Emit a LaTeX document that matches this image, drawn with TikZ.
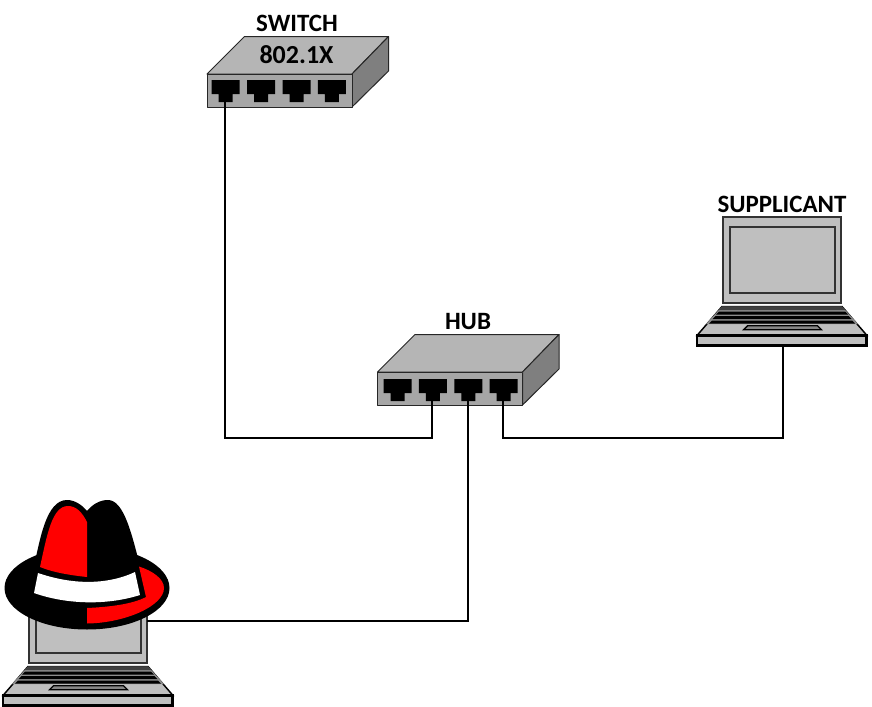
\documentclass[tikz,border=0pt]{standalone}
\usepackage{fontspec}
\setmainfont{Carlito}
\definecolor{bodyfront}{HTML}{A6A6A6}
\definecolor{bodytop}{HTML}{B5B5B5}
\definecolor{bodyside}{HTML}{7F7F7F}
\definecolor{lapgrey}{HTML}{BFBFBF}
\definecolor{keygrey}{HTML}{8C8C8C}
\definecolor{hatred}{HTML}{FF0000}
\tikzset{
  x=0.75pt,y=-0.75pt,
  wire/.style={draw=black,line width=1.5pt},
  edge/.style={draw=black!85,line width=0.75pt,line join=round},
  lapedge/.style={draw=black,line width=1.6pt,line join=miter},
  label/.style={font=\bfseries\fontsize{18.7}{20}\selectfont,text=black,inner sep=0pt},
  pics/netbox/.style 2 args={code={
    \path[edge,fill=bodytop] (0,0) -- (37.5,-37.5) -- (181.5,-37.5) -- (145,0) -- cycle;
    \path[edge,fill=bodyside] (145,0) -- (181.5,-37.5) -- (181.5,-3) -- (145,33) -- cycle;
    \path[edge,fill=bodyfront] (0,0) rectangle (145,33);
    \foreach \i in {0,1,2,3}{
      \fill[black,shift={(\i*35.4+#1,#2)}] (6,7) -- (34,7) -- (34,21) -- (27,21) -- (27,29) -- (13,29) -- (13,21) -- (6,21) -- cycle;
      \coordinate (-port\i) at (\i*35.4+19.5+#1,27);
    }
  }},
  pics/laptop/.style={code={
    \path[draw=black!80,line width=1.5pt,fill=lapgrey] (0,0) rectangle (118,86);
    \path[draw=black!80,line width=1.5pt,fill=lapgrey] (6.5,9.5) rectangle (112,76);
    \path[lapedge,line width=1.1pt,fill=lapgrey] (-1,89.5) -- (119,89.5) -- (144,118.5) -- (-26,118.5) -- cycle;
    \fill[keygrey] (-1,89.5) -- (119,89.5) -- (135,107) -- (-17,107) -- cycle;
    \fill[black!75] (-1,89.5) -- (119,89.5) -- (122.5,93) -- (-4.5,93) -- cycle;
    \fill[black] (-4,94.5) -- (122,94.5) -- (125,97.5) -- (-7,97.5) -- cycle;
    \fill[black] (-7.5,99) -- (125.5,99) -- (128.5,102) -- (-10.5,102) -- cycle;
    \fill[black] (-11,103.5) -- (129,103.5) -- (132,106.5) -- (-14,106.5) -- cycle;
    \path[draw=black,line width=1pt,fill=lapgrey!70!black] (24.5,108.8) -- (94.5,108.8) -- (98.5,112.8) -- (20.5,112.8) -- cycle;
    \path[lapedge,fill=lapgrey] (-26,118.5) rectangle (143.5,128.5);
    \coordinate (-base) at (60,128.5);
    \coordinate (-right) at (118,44);
  }}
}
\begin{document}
\begin{tikzpicture}
\useasboundingbox (0,0) rectangle (872,707);
\fill[white] (0,0) rectangle (872,707);

\pic (sw) at (207,74) {netbox={-1.3}{-1}};
\pic (hb) at (377.5,372) {netbox={0}{0}};
\pic (sup) at (723,217) {laptop};
\pic (att) at (29,577) {laptop};

\node[label] (swlabel) at (297,23) {SWITCH};
\node[label,font=\bfseries\fontsize{19.5}{21}\selectfont] (swname) at (296.5,54.5) {802.1X};
\node[label] (hublabel) at (468,322) {HUB};
\node[label] (suplabel) at (782,204) {SUPPLICANT};

% connectors
\coordinate (bus) at (0,438);
\draw[wire] (sw-port0) -- (sw-port0 |- bus) -- (hb-port1 |- bus) -- (hb-port1);
\draw[wire] (hb-port3) -- (hb-port3 |- bus) -- (sup-base |- bus) -- (sup-base);
\draw[wire] (hb-port2) -- (hb-port2 |- att-right) -- (att-right);

% hat
\fill[black] (87,588) ellipse [x radius=82.5,y radius=41.5];
\fill[black] (34,566) .. controls (40,540) and (46,500) .. (67,500)
  .. controls (75,500) and (82,505) .. (87,511)
  .. controls (92,505) and (99,500) .. (108,500)
  .. controls (124,500) and (132,535) .. (140,566) -- (140,600) -- (34,600) -- cycle;
\fill[hatred] (40,567) .. controls (47,535) and (52,506) .. (68,506)
  .. controls (76,506) and (82,512) .. (87,522) -- (87,577)
  .. controls (68,575) and (52,572) .. (40,567) -- cycle;
\fill[white] (38,573) .. controls (70,584) and (105,586) .. (135,572)
  -- (140,595) .. controls (105,606) and (65,604) .. (34,593) -- cycle;
\fill[hatred] (139,566.5) .. controls (153,571) and (164,579) .. (164,588)
  .. controls (164,606) and (125,623) .. (87,623.5) -- (87,608)
  .. controls (110,607) and (133,604) .. (146,597) -- cycle;
\end{tikzpicture}
\end{document}
